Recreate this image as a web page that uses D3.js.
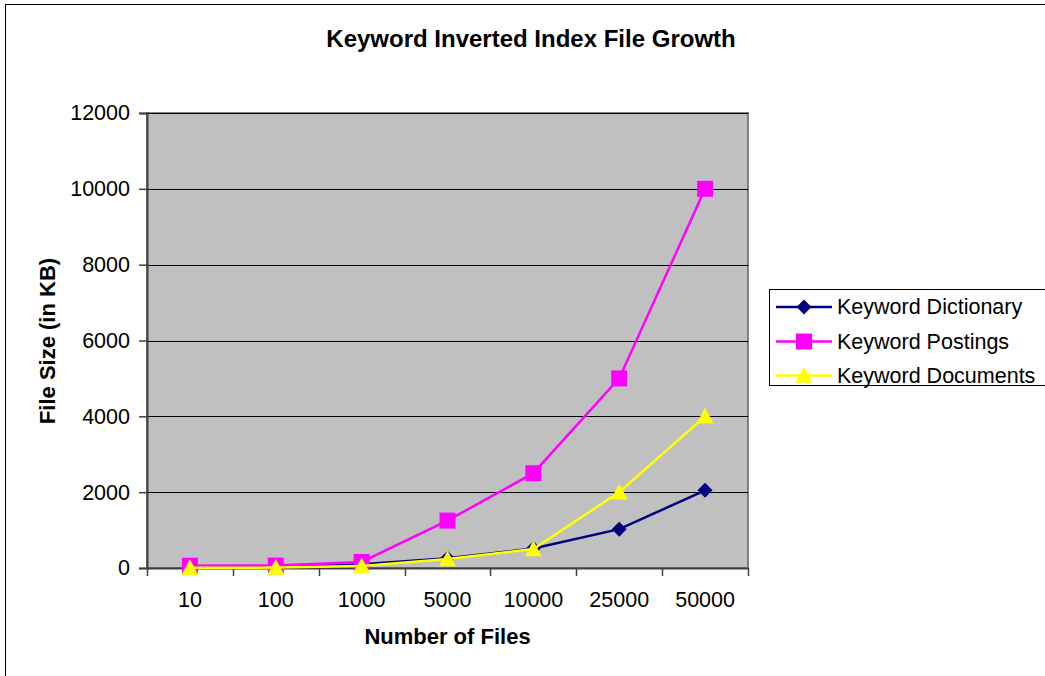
<!DOCTYPE html>
<html>
<head>
<meta charset="utf-8">
<script src="https://cdn.jsdelivr.net/npm/d3@7"></script>
<style>
  html, body { margin: 0; padding: 0; background: #fff; }
  svg { display: block; font-family: "Liberation Sans", Arial, sans-serif; }
</style>
</head>
<body>
<svg id="chart" width="1045" height="676"></svg>
<script>
// Number of files indexed (categorical x axis)
const categories = ["10", "100", "1000", "5000", "10000", "25000", "50000"];
// File sizes in KB for each index file
const dictionary = [10, 20, 100, 256, 512, 1024, 2048];
const postings   = [60, 64, 160, 1250, 2500, 5000, 10000];
const documents  = [5, 10, 50, 240, 500, 2000, 4000];
const yTicks = [0, 2000, 4000, 6000, 8000, 10000, 12000];

const series = [
  { name: "Keyword Dictionary", values: dictionary, color: "#000080", shape: "diamond" },
  { name: "Keyword Postings",   values: postings,   color: "#FF00FF", shape: "square" },
  { name: "Keyword Documents",  values: documents,  color: "#FFFF00", shape: "triangle" }
];

const FONT = "Liberation Sans, Arial, sans-serif";
const svg = d3.select("#chart");

// Outer chart frame
svg.append("rect")
  .attr("x", 5.5).attr("y", 4.5)
  .attr("width", 1050).attr("height", 690)
  .attr("fill", "#fff").attr("stroke", "#000").attr("stroke-width", 1);

const plot = { left: 147, top: 113, right: 748, bottom: 568 };

const x = d3.scaleBand().domain(categories).range([plot.left, plot.right]).padding(0);
const y = d3.scaleLinear().domain([0, 12000]).range([plot.bottom, plot.top]);

// Plot background
svg.append("rect")
  .attr("x", plot.left).attr("y", plot.top)
  .attr("width", plot.right - plot.left).attr("height", plot.bottom - plot.top)
  .attr("fill", "#C0C0C0").attr("stroke", "#808080").attr("stroke-width", 2);

// Horizontal gridlines
svg.append("g")
  .selectAll("line")
  .data(yTicks.filter(d => d > 0))
  .join("line")
  .attr("x1", plot.left).attr("x2", plot.right)
  .attr("y1", d => Math.round(y(d)) + 0.5).attr("y2", d => Math.round(y(d)) + 0.5)
  .attr("stroke", "#000").attr("stroke-width", 1);

// Y axis
const yAxis = svg.append("g")
  .attr("transform", `translate(${plot.left},0)`)
  .call(d3.axisLeft(y).tickValues(yTicks).tickSize(8).tickPadding(9).tickFormat(d3.format("d")));
yAxis.select(".domain").attr("stroke", "#404040").attr("stroke-width", 2);
yAxis.selectAll(".tick line").attr("stroke", "#404040").attr("stroke-width", 1.5);
yAxis.selectAll(".tick text")
  .attr("font-size", 21.5).attr("fill", "#000").attr("font-family", FONT);

// X axis: ticks sit on category boundaries
const xAxis = svg.append("g")
  .attr("transform", `translate(0,${plot.bottom})`)
  .call(d3.axisBottom(x).tickSize(0).tickPadding(24));
xAxis.select(".domain").attr("stroke", "#404040").attr("stroke-width", 2);
xAxis.selectAll(".tick text")
  .attr("font-size", 21.5).attr("fill", "#000").attr("font-family", FONT);
const boundaries = categories.map(c => x(c)).concat([x(categories[categories.length - 1]) + x.bandwidth()]);
xAxis.selectAll("line.bound")
  .data(boundaries)
  .join("line")
  .attr("class", "bound")
  .attr("x1", d => Math.round(d) + 0.5).attr("x2", d => Math.round(d) + 0.5)
  .attr("y1", 0).attr("y2", 8)
  .attr("stroke", "#404040").attr("stroke-width", 1.5);

const cx = c => x(c) + x.bandwidth() / 2;

function markerPath(shape, size) {
  const s = size / 2;
  if (shape === "diamond") return `M0,${-s}L${s},0L0,${s}L${-s},0Z`;
  if (shape === "square") return `M${-s},${-s}H${s}V${s}H${-s}Z`;
  return `M0,${-s}L${s},${s * 0.85}L${-s},${s * 0.85}Z`;
}
const markerSize = { diamond: 15, square: 16, triangle: 17 };

const line = d3.line()
  .x((d, i) => cx(categories[i]))
  .y(d => y(d));

// Series lines and markers
series.forEach(s => {
  const g = svg.append("g");
  g.append("path")
    .attr("d", line(s.values))
    .attr("fill", "none")
    .attr("stroke", s.color)
    .attr("stroke-width", 2.5);
  g.selectAll("path.m")
    .data(s.values)
    .join("path")
    .attr("class", "m")
    .attr("transform", (d, i) => `translate(${cx(categories[i])},${y(d)})`)
    .attr("d", markerPath(s.shape, markerSize[s.shape]))
    .attr("fill", s.color);
});

// Title
svg.append("text")
  .attr("x", 531).attr("y", 47)
  .attr("text-anchor", "middle")
  .attr("font-size", 24).attr("font-weight", "bold")
  .text("Keyword Inverted Index File Growth");

// Axis titles
svg.append("text")
  .attr("x", (plot.left + plot.right) / 2).attr("y", 644)
  .attr("text-anchor", "middle")
  .attr("font-size", 22).attr("font-weight", "bold")
  .text("Number of Files");

svg.append("text")
  .attr("transform", `translate(55,341) rotate(-90)`)
  .attr("text-anchor", "middle")
  .attr("font-size", 22).attr("font-weight", "bold")
  .text("File Size (in KB)");

// Legend
const legend = svg.append("g");
legend.append("rect")
  .attr("x", 769.5).attr("y", 289.5)
  .attr("width", 300).attr("height", 96)
  .attr("fill", "#fff").attr("stroke", "#000").attr("stroke-width", 1);
const rowY = [307, 341.5, 375.5];
series.forEach((s, i) => {
  const ly = rowY[i];
  legend.append("line")
    .attr("x1", 776).attr("x2", 832)
    .attr("y1", ly).attr("y2", ly)
    .attr("stroke", s.color).attr("stroke-width", 2.5);
  legend.append("path")
    .attr("transform", `translate(804,${ly})`)
    .attr("d", markerPath(s.shape, markerSize[s.shape]))
    .attr("fill", s.color);
  legend.append("text")
    .attr("x", 837).attr("y", ly + 7.3)
    .attr("font-size", 21.5)
    .text(s.name);
});
</script>
</body>
</html>
